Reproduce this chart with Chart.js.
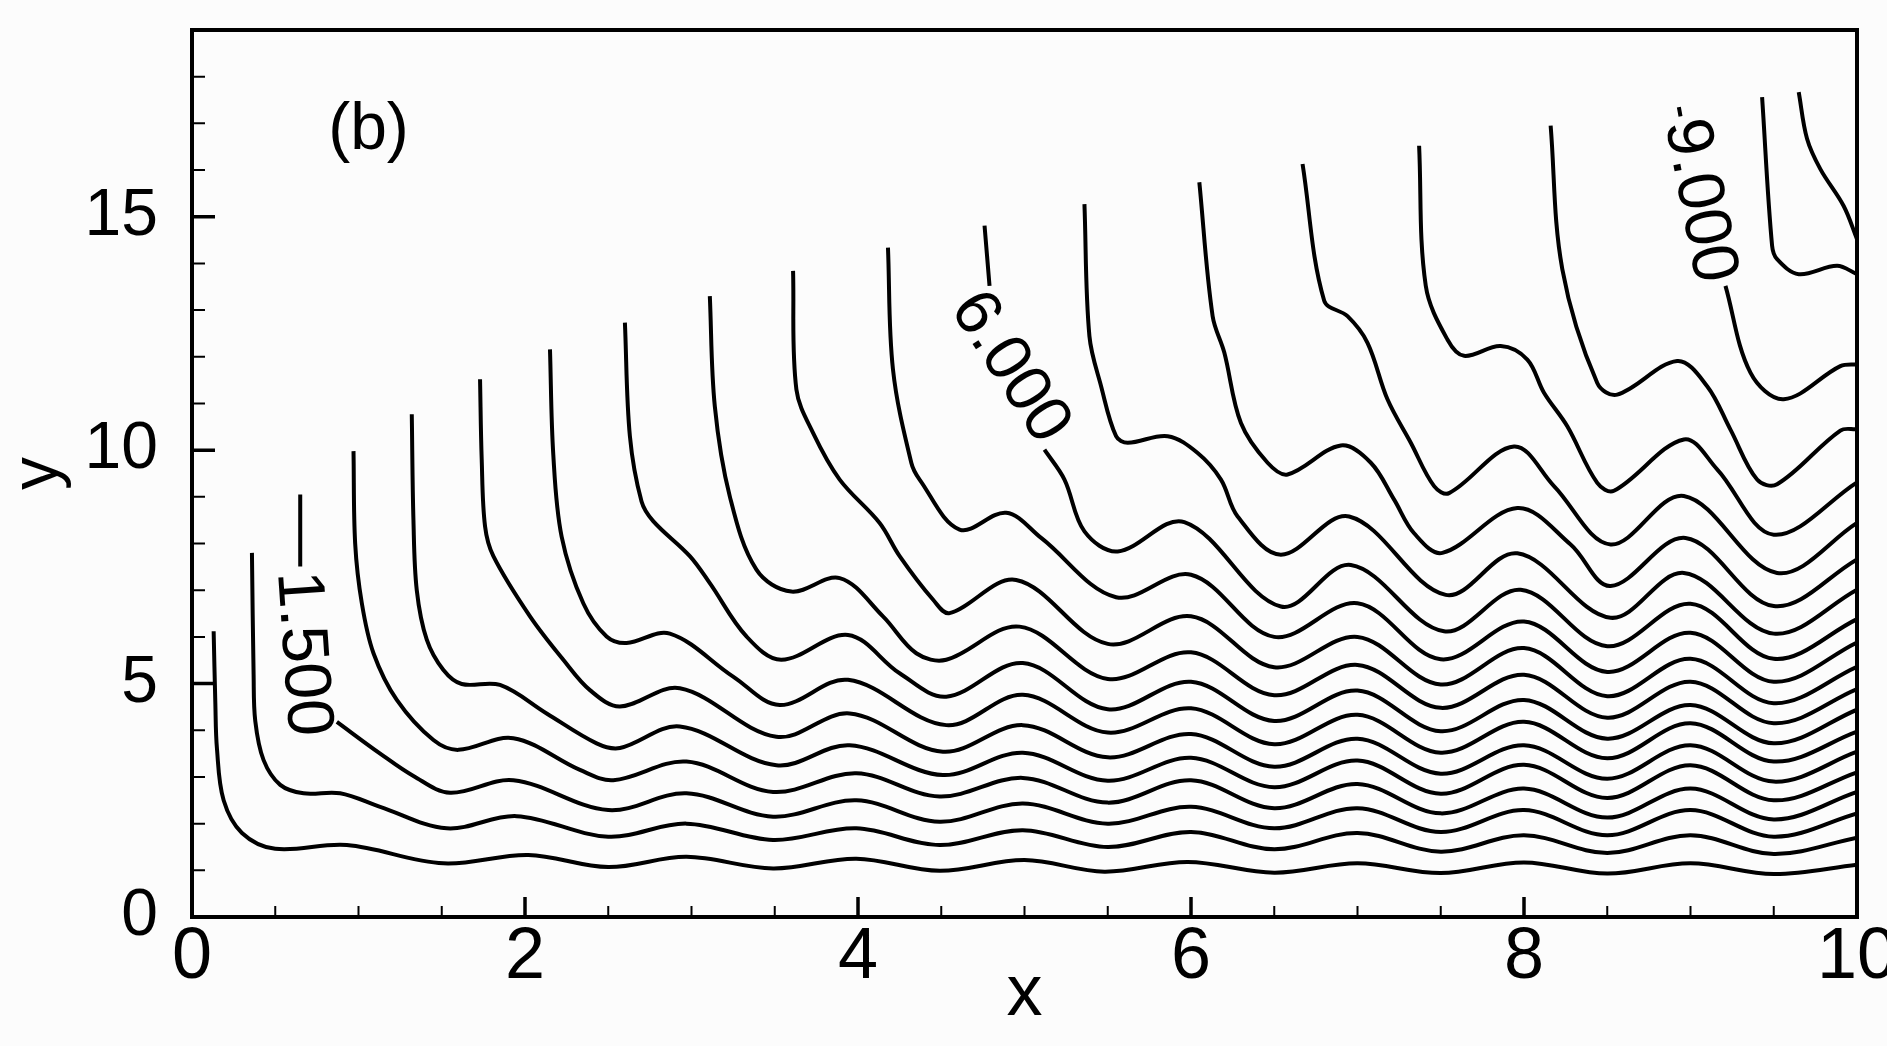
<!DOCTYPE html>
<html>
<head>
<meta charset="utf-8">
<script src="https://cdn.jsdelivr.net/npm/chart.js@4.4.1/dist/chart.umd.min.js"></script>
<style>
  html, body { margin: 0; padding: 0; background: #fcfcfc; }
  #chart { display: block; }
</style>
</head>
<body>
<canvas id="chart" width="1887" height="1046"></canvas>
<script>
// contour lines, one array per level, points are [x, y]; null = gap for a label
const lv05 = [[0.13,6.12],[0.14,4.6],[0.15,3.6],[0.19,2.5],[0.30,1.80],[0.50,1.46],[0.93,1.54],[1.51,1.15],[2.02,1.33],[2.5,1.07],[2.97,1.29],[3.49,1.04],[3.99,1.25],[4.49,0.99],[5.0,1.22],[5.48,0.97],[5.98,1.18],[6.5,0.95],[7.0,1.15],[7.5,0.94],[8.0,1.17],[8.5,0.93],[9.0,1.15],[9.5,0.92],[10,1.12]];
const lv10 = [[0.36,7.80],[0.37,5.2],[0.38,4.2],[0.43,3.36],[0.53,2.83],[0.67,2.65],[0.89,2.65],[1.13,2.36],[1.53,1.90],[1.95,2.16],[2.5,1.72],[2.97,2.00],[3.49,1.65],[3.99,1.90],[4.49,1.54],[4.99,1.86],[5.5,1.50],[6.0,1.82],[6.5,1.45],[7.0,1.80],[7.5,1.40],[8.0,1.75],[8.5,1.37],[9.0,1.75],[9.5,1.35],[10,1.70]];
const lv15 = [[0.65,9.05],[0.65,7.51],null,[0.87,4.18],[1.13,3.50],[1.33,3.02],[1.55,2.66],[1.93,2.93],[2.5,2.29],[2.97,2.65],[3.49,2.15],[3.99,2.50],[4.49,2.04],[4.99,2.43],[5.5,2.0],[6.0,2.36],[6.5,1.90],[7.0,2.33],[7.5,1.82],[8.0,2.29],[8.5,1.75],[9.0,2.29],[9.5,1.72],[10,2.22]];
const lv20 = [[0.97,9.98],[0.98,8.0],[1.02,6.72],[1.09,5.65],[1.23,4.65],[1.45,3.79],[1.60,3.58],[1.93,3.83],[2.33,3.15],[2.53,2.93],[2.97,3.33],[3.49,2.68],[3.99,3.08],[4.49,2.58],[4.99,2.98],[5.5,2.45],[6.0,2.93],[6.5,2.33],[7.0,2.85],[7.5,2.22],[8.0,2.75],[8.5,2.13],[9.0,2.75],[9.5,2.09],[10,2.68]];
const lv25 = [[1.32,10.77],[1.33,8.5],[1.35,7.0],[1.41,5.94],[1.51,5.29],[1.62,4.99],[1.85,4.97],[2.13,4.36],[2.43,3.72],[2.57,3.62],[2.93,4.08],[3.51,3.25],[3.95,3.68],[4.51,3.04],[4.99,3.52],[5.5,2.92],[6.0,3.41],[6.5,2.78],[7.0,3.35],[7.5,2.64],[8.0,3.26],[8.5,2.55],[9.0,3.25],[9.5,2.50],[10,3.10]];
const lv30 = [[1.73,11.52],[1.74,9.8],[1.76,8.37],[1.81,7.73],[2.03,6.44],[2.23,5.51],[2.39,4.86],[2.57,4.51],[2.93,4.90],[3.51,3.86],[3.95,4.36],[4.51,3.54],[4.99,4.11],[5.5,3.42],[6.0,3.92],[6.5,3.22],[7.0,3.82],[7.5,3.07],[8.0,3.68],[8.5,2.96],[9.0,3.68],[9.5,2.90],[10,3.54]];
const lv35 = [[2.15,12.16],[2.17,9.9],[2.22,8.15],[2.35,6.72],[2.49,6.01],[2.61,5.87],[2.87,6.07],[3.25,5.15],[3.53,4.54],[3.94,5.08],[4.53,4.11],[4.99,4.76],[5.5,3.95],[6.0,4.47],[6.5,3.70],[7.0,4.33],[7.5,3.52],[8.0,4.18],[8.5,3.40],[9.0,4.15],[9.5,3.33],[10,3.97]];
const lv40 = [[2.60,12.73],[2.63,10.3],[2.70,8.9],[2.77,8.48],[2.99,7.73],[3.11,7.15],[3.33,6.01],[3.54,5.51],[3.94,6.04],[4.25,5.22],[4.53,4.72],[4.99,5.44],[5.5,4.45],[6.0,5.04],[6.5,4.20],[7.0,4.85],[7.5,3.98],[8.0,4.65],[8.5,3.82],[9.0,4.54],[9.5,3.72],[10,4.44]];
const lv45 = [[3.11,13.30],[3.14,10.94],[3.23,9.01],[3.39,7.44],[3.60,6.97],[3.89,7.26],[4.15,6.44],[4.35,5.65],[4.53,5.51],[4.97,6.22],[5.5,5.10],[6.0,5.67],[6.5,4.75],[7.0,5.40],[7.5,4.48],[8.0,5.19],[8.5,4.27],[9.0,5.04],[9.5,4.15],[10,4.88]];
const lv50 = [[3.61,13.84],[3.63,11.30],[3.73,10.37],[3.89,9.37],[4.13,8.44],[4.25,7.73],[4.45,6.80],[4.55,6.51],[4.95,7.22],[5.5,5.85],[6.0,6.44],[6.5,5.35],[7.0,6.0],[7.5,4.98],[8.0,5.76],[8.5,4.73],[9.0,5.53],[9.5,4.58],[10,5.36]];
const lv55 = [[4.18,14.34],[4.21,11.73],[4.32,9.73],[4.37,9.37],[4.61,8.30],[4.89,8.66],[5.10,8.12],[5.55,6.85],[6.0,7.33],[6.5,6.0],[7.0,6.72],[7.5,5.52],[8.0,6.33],[8.5,5.25],[9.0,6.09],[9.5,5.04],[10,5.88]];
const lv60 = [[4.76,14.81],[4.79,13.52],null,[5.12,10.01],[5.24,9.37],[5.36,8.26],[5.56,7.83],[5.96,8.46],[6.54,6.65],[6.96,7.54],[7.52,6.12],[7.98,7.01],[8.5,5.80],[9.0,6.71],[9.5,5.53],[10,6.38]];
const lv65 = [[5.36,15.27],[5.39,12.44],[5.46,11.37],[5.55,10.30],[5.62,10.16],[5.86,10.30],[6.04,9.94],[6.18,9.37],[6.28,8.58],[6.54,7.76],[6.95,8.58],[7.53,6.90],[7.96,7.79],[8.52,6.41],[8.96,7.37],[9.5,6.07],[10,7.01]];
const lv70 = [[6.05,15.74],[6.13,12.87],[6.20,12.09],[6.30,10.58],[6.46,9.73],[6.58,9.48],[6.90,10.10],[7.08,9.73],[7.22,8.94],[7.34,8.22],[7.51,7.80],[7.96,8.76],[8.28,7.98],[8.52,7.09],[8.97,8.12],[9.50,6.66],[10,7.66]];
const lv75 = [[6.67,16.13],[6.80,13.20],[6.94,12.87],[7.06,12.30],[7.18,11.09],[7.32,10.16],[7.46,9.23],[7.55,9.08],[7.94,10.08],[8.18,9.23],[8.52,7.98],[8.96,9.02],[9.52,7.37],[10,8.44]];
const lv80 = [[7.37,16.52],[7.41,13.52],[7.54,12.37],[7.64,12.02],[7.86,12.23],[8.02,11.94],[8.12,11.23],[8.26,10.51],[8.44,9.30],[8.54,9.13],[8.96,10.23],[9.16,9.59],[9.50,8.19],[10,9.31]];
const lv85 = [[8.16,16.95],[8.23,13.88],[8.44,11.44],[8.56,11.19],[8.92,11.91],[9.10,11.37],[9.24,10.44],[9.40,9.37],[9.52,9.27],[9.9,10.42],[10,10.45]];
const lv90 = [[8.93,17.35],[8.94,17.15],null,[9.21,13.52],[9.36,11.66],[9.56,11.09],[9.9,11.80],[10,11.84]];
const lv95 = [[9.43,17.56],[9.49,14.38],[9.52,14.09],[9.65,13.77],[9.88,13.95],[10,13.77]];
const lv100 = [[9.65,17.67],[9.70,16.67],[9.78,16.02],[9.92,15.23],[10,14.52]];

const contourLines = [lv05, lv10, lv15, lv20, lv25, lv30, lv35, lv40, lv45, lv50,
                      lv55, lv60, lv65, lv70, lv75, lv80, lv85, lv90, lv95, lv100];

// labels written on the contours
const labelText = ['1.500', '6.000', '9.000'];
const labelX = [0.66, 4.91, 9.05];
const labelY = [5.64, 11.77, 15.34];
const labelAngle = [86, 57, 79];

// axis ticks
const xMajor = [0, 2, 4, 6, 8, 10];
const xMinor = [0.5, 1, 1.5, 2.5, 3, 3.5, 4.5, 5, 5.5, 6.5, 7, 7.5, 8.5, 9, 9.5];
const yMajor = [0, 5, 10, 15];
const yMinor = [1, 2, 3, 4, 6, 7, 8, 9, 11, 12, 13, 14, 16, 17, 18];

const FONT = '"Liberation Sans", Arial, Helvetica, sans-serif';
const INK = '#000';

function toPoints(arr) {
    return arr.map(p => p ? { x: p[0], y: p[1] } : { x: NaN, y: NaN });
}

// frame, inner ticks and text on the plot
const decorations = {
    id: 'decorations',
    beforeDraw(chart) {
        const ctx = chart.ctx;
        ctx.save();
        ctx.fillStyle = '#fcfcfc';
        ctx.fillRect(0, 0, chart.width, chart.height);
        ctx.restore();
    },
    afterDraw(chart) {
        const ctx = chart.ctx;
        const a = chart.chartArea;
        const xs = chart.scales.x, ys = chart.scales.y;
        ctx.save();
        ctx.strokeStyle = INK;

        ctx.lineWidth = 2;
        ctx.beginPath();
        xMinor.forEach(v => { const p = xs.getPixelForValue(v); ctx.moveTo(p, a.bottom); ctx.lineTo(p, a.bottom - 11); });
        yMinor.forEach(v => { const p = ys.getPixelForValue(v); ctx.moveTo(a.left, p); ctx.lineTo(a.left + 13, p); });
        ctx.stroke();

        ctx.lineWidth = 3.5;
        ctx.beginPath();
        xMajor.forEach(v => { const p = xs.getPixelForValue(v); ctx.moveTo(p, a.bottom); ctx.lineTo(p, a.bottom - 20); });
        yMajor.forEach(v => { const p = ys.getPixelForValue(v); ctx.moveTo(a.left, p); ctx.lineTo(a.left + 23, p); });
        ctx.stroke();

        ctx.lineWidth = 4;
        ctx.strokeRect(a.left, a.top, a.right - a.left, a.bottom - a.top);

        ctx.fillStyle = INK;
        ctx.font = '66px ' + FONT;
        ctx.textAlign = 'center';
        ctx.textBaseline = 'middle';
        labelText.forEach((t, i) => {
            ctx.save();
            ctx.translate(xs.getPixelForValue(labelX[i]), ys.getPixelForValue(labelY[i]));
            ctx.rotate(labelAngle[i] * Math.PI / 180);
            ctx.fillText(t, 0, 0);
            ctx.restore();
        });
        ctx.fillText('(b)', xs.getPixelForValue(1.06), ys.getPixelForValue(16.84));
        ctx.restore();
    }
};

new Chart(document.getElementById('chart'), {
    type: 'scatter',
    data: {
        datasets: contourLines.map(line => ({
            data: toPoints(line),
            showLine: true,
            spanGaps: false,
            borderColor: INK,
            borderWidth: 4,
            pointRadius: 0,
            tension: 0.35
        }))
    },
    options: {
        responsive: false,
        devicePixelRatio: 1,
        animation: false,
        layout: { padding: { top: 30, right: 30, left: 0, bottom: 0 } },
        plugins: { legend: { display: false }, tooltip: { enabled: false } },
        scales: {
            x: {
                type: 'linear', min: 0, max: 10,
                grid: { display: false }, border: { display: false },
                ticks: { stepSize: 2, color: INK, padding: -3, maxRotation: 0, autoSkip: false,
                         font: { family: FONT, size: 72, lineHeight: 1 } },
                title: { display: true, text: 'x', color: INK, padding: { top: 0, bottom: 15 },
                         font: { family: FONT, size: 72, lineHeight: 1 } },
                afterFit(s) { s.height = 129; s.paddingLeft = 0; s.paddingRight = 0; }
            },
            y: {
                type: 'linear', min: 0, max: 19,
                grid: { display: false }, border: { display: false },
                ticks: { stepSize: 5, includeBounds: false, color: INK, padding: 26,
                         font: { family: FONT, size: 66, lineHeight: 1 } },
                title: { display: true, text: 'y', color: INK, padding: { top: 6, bottom: 0 },
                         font: { family: FONT, size: 66, lineHeight: 1 } },
                afterFit(s) { s.width = 192; s.paddingTop = 0; s.paddingBottom = 0; }
            }
        }
    },
    plugins: [decorations]
});
</script>
</body>
</html>
